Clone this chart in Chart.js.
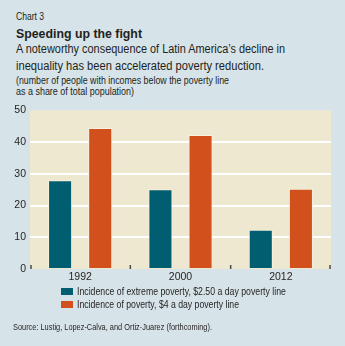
<!DOCTYPE html>
<html>
<head>
<meta charset="utf-8">
<script src="https://cdn.jsdelivr.net/npm/chart.js@4.4.1/dist/chart.umd.min.js"></script>
<style>
  html, body { margin: 0; padding: 0; }
  body {
    width: 345px; height: 346px; background: #d6e3e8; position: relative; overflow: hidden;
    font-family: "Liberation Sans", Arial, sans-serif;
    color: #231f20;
  }
  .t { position: absolute; white-space: nowrap; line-height: 1; transform-origin: 0 0; }
  #wrap { position: absolute; left: 0; top: 100px; width: 345px; height: 186px; }
  .box { position: absolute; left: 61px; width: 12px; height: 7px; }
</style>
</head>
<body>
<div class="t" data-w="28" style="left:16px;top:11.5px;font-size:10px">Chart 3</div>
<div class="t" data-w="126" style="left:16px;top:26.6px;font-size:13.5px;font-weight:bold">Speeding up the fight</div>
<div class="t" data-w="269" style="left:16px;top:43.1px;font-size:12px">A noteworthy consequence of Latin America’s decline in</div>
<div class="t" data-w="248" style="left:16px;top:59.8px;font-size:12px">inequality has been accelerated poverty reduction.</div>
<div class="t" data-w="213" style="left:16px;top:75.8px;font-size:10px">(number of people with incomes below the poverty line</div>
<div class="t" data-w="118" style="left:16px;top:86.8px;font-size:10px">as a share of total population)</div>
<div id="wrap"><canvas id="chart"></canvas></div>
<div id="legend"></div>
<div class="t" data-w="199" style="left:13px;top:322px;font-size:9.5px">Source: Lustig, Lopez-Calva, and Ortiz-Juarez (forthcoming).</div>
<script>
  const years = ["1992", "2000", "2012"];
  const extreme = [28.0, 25.1, 12.4];
  const poverty = [44.4, 42.2, 25.3];
  const seriesNames = [
    "Incidence of extreme poverty, $2.50 a day poverty line",
    "Incidence of poverty, $4 a day poverty line",
  ];
  const colors = ["#005e70", "#d2501b"];
  const yTicks = [0, 10, 20, 30, 40, 50];

  // fond beige de la zone de tracé + petits repères entre catégories
  const plotBg = {
    id: "plotBg",
    beforeDraw(chart) {
      const { ctx, chartArea: a } = chart;
      ctx.save();
      ctx.fillStyle = "#efe8d1";
      ctx.fillRect(a.left, a.top, a.right - a.left, a.bottom - a.top);
      ctx.restore();
    },
    afterDatasetsDraw(chart) {
      const { ctx, chartArea: a } = chart;
      const x = chart.scales.x;
      const w = (x.right - x.left) / years.length;
      ctx.save();
      ctx.strokeStyle = "#4a4a4a";
      ctx.lineWidth = 1.5;
      for (let i = 0; i <= years.length; i++) {
        const px = Math.min(Math.max(x.left + i * w, a.left + 1), a.right - 1);
        ctx.beginPath();
        ctx.moveTo(px, a.bottom - 4);
        ctx.lineTo(px, a.bottom);
        ctx.stroke();
      }
      ctx.restore();
    },
  };

  const tickFont = { family: "Liberation Sans, Arial, sans-serif", size: 10.5 };

  const ctx = document.getElementById("chart").getContext("2d");
  new Chart(ctx, {
    type: "bar",
    data: {
      labels: years,
      datasets: [
        { label: seriesNames[0], data: extreme, backgroundColor: colors[0] },
        { label: seriesNames[1], data: poverty, backgroundColor: colors[1] },
      ].map((d) => ({
        ...d,
        borderColor: "#f7f1df",
        borderWidth: 1,
        barPercentage: 0.6,
        categoryPercentage: 0.8,
      })),
    },
    options: {
      responsive: true,
      maintainAspectRatio: false,
      animation: false,
      layout: { padding: { top: 9, right: 14, left: 0, bottom: 0 } },
      plugins: { legend: { display: false }, tooltip: { enabled: false } },
      scales: {
        x: {
          grid: { display: false, drawTicks: false, tickLength: 0 },
          border: { display: false },
          ticks: { padding: 2, color: "#231f20", font: tickFont },
          afterFit(s) { s.height = 17; },
        },
        y: {
          min: 0,
          max: 50,
          afterBuildTicks(s) { s.ticks = yTicks.map((v) => ({ value: v })); },
          grid: {
            drawTicks: false,
            lineWidth: 2,
            color: (c) => (c.tick && (c.tick.value === 0 || c.tick.value === 50) ? "rgba(0,0,0,0)" : "#ffffff"),
          },
          border: { display: false },
          ticks: { padding: 4, color: "#231f20", font: tickFont },
          afterFit(s) { s.width = 30; },
        },
      },
    },
    plugins: [plotBg],
  });

  // légende en HTML, alignée à gauche comme l'original
  const legendTops = [286.1, 299.4];
  const legendW = [209, 162];
  document.getElementById("legend").innerHTML = seriesNames
    .map((n, i) =>
      `<div class="box" style="top:${legendTops[i] + 2}px;background:${colors[i]}"></div>` +
      `<div class="t" data-w="${legendW[i]}" style="left:77px;top:${legendTops[i]}px;font-size:10.5px">${n}</div>`)
    .join("");

  // police condensée : on resserre chaque ligne à la largeur mesurée sur l'original
  document.querySelectorAll(".t[data-w]").forEach((el) => {
    const w = el.getBoundingClientRect().width;
    el.style.transform = `scaleX(${(+el.dataset.w / w).toFixed(3)})`;
  });
</script>
</body>
</html>
